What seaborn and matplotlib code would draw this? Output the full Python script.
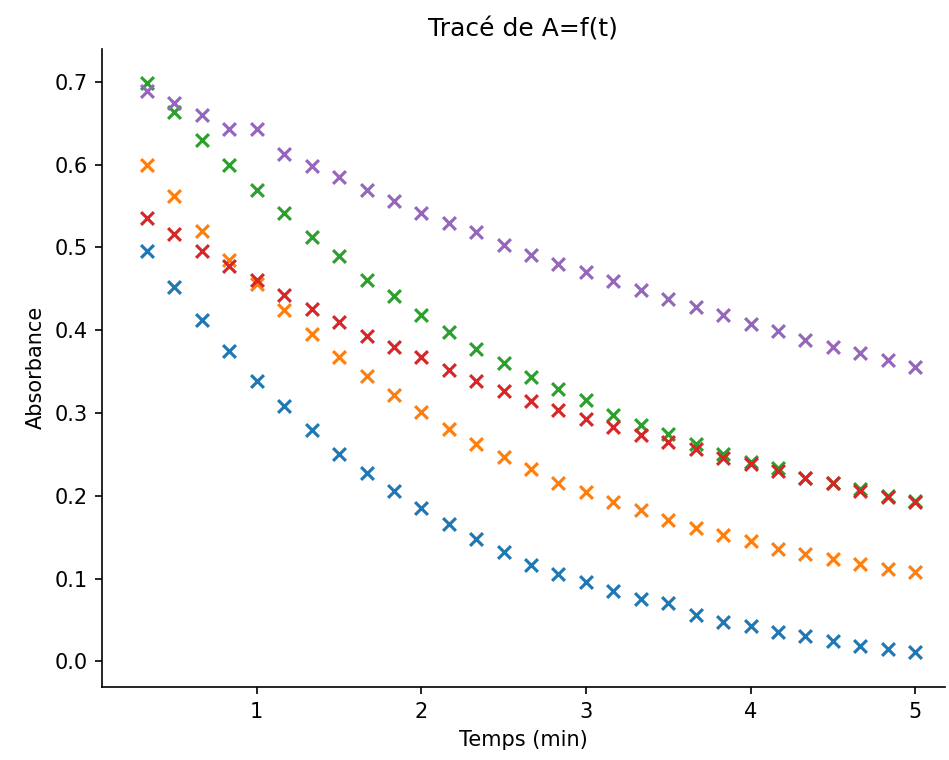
import numpy as np
import pandas as pd
from matplotlib import pyplot as plt
import seaborn as sns

# time points (min), one every 10 s
temps = [0.333, 0.5, 0.667, 0.833, 1.0, 1.167, 1.333, 1.5, 1.667, 1.833,
         2.0, 2.167, 2.333, 2.5, 2.667, 2.833, 3.0, 3.167, 3.333, 3.5,
         3.667, 3.833, 4.0, 4.167, 4.333, 4.5, 4.667, 4.833, 5.0]

# absorbance series
serie_1 = [0.496, 0.452, 0.412, 0.375, 0.339, 0.308, 0.279, 0.250, 0.227, 0.206,
           0.185, 0.166, 0.148, 0.132, 0.116, 0.106, 0.096, 0.085, 0.075, 0.070,
           0.056, 0.048, 0.043, 0.035, 0.031, 0.025, 0.019, 0.015, 0.011]
serie_2 = [0.600, 0.562, 0.520, 0.485, 0.456, 0.424, 0.395, 0.368, 0.345, 0.322,
           0.301, 0.281, 0.263, 0.247, 0.232, 0.216, 0.204, 0.193, 0.183, 0.171,
           0.161, 0.153, 0.145, 0.136, 0.130, 0.124, 0.118, 0.112, 0.108]
serie_3 = [0.698, 0.663, 0.630, 0.600, 0.569, 0.542, 0.512, 0.489, 0.460, 0.441,
           0.418, 0.398, 0.377, 0.360, 0.343, 0.329, 0.316, 0.298, 0.285, 0.275,
           0.262, 0.251, 0.241, 0.233, 0.222, 0.215, 0.208, 0.200, 0.194]
serie_4 = [0.535, 0.516, 0.496, 0.477, 0.460, 0.443, 0.426, 0.410, 0.393, 0.380,
           0.367, 0.352, 0.339, 0.326, 0.315, 0.304, 0.293, 0.283, 0.273, 0.265,
           0.256, 0.246, 0.238, 0.230, 0.222, 0.215, 0.206, 0.199, 0.193]
serie_5 = [0.689, 0.674, 0.660, 0.643, 0.643, 0.613, 0.598, 0.585, 0.569, 0.556,
           0.541, 0.529, 0.518, 0.503, 0.491, 0.480, 0.470, 0.459, 0.449, 0.438,
           0.428, 0.418, 0.408, 0.399, 0.388, 0.380, 0.372, 0.364, 0.356]

series = [serie_1, serie_2, serie_3, serie_4, serie_5]
colors = sns.color_palette('tab10', 5)

plt.rcParams['font.size'] = 15

fig = plt.figure(figsize=(9.49, 7.6), dpi=100)
ax = fig.add_axes([0.1075, 0.096, 0.888, 0.84])

#one scatter per experiment
for i, s in enumerate(series):
    df = pd.DataFrame({'t': temps, 'A': s})
    sns.scatterplot(data=df, x='t', y='A', marker='x', s=85, linewidth=2.25,
                    color=colors[i], ax=ax)

ax.set_xlim(0.06, 5.18)
ax.set_ylim(-0.031, 0.74)
ax.set_xticks([1, 2, 3, 4, 5])
ax.set_yticks([0.0, 0.1, 0.2, 0.3, 0.4, 0.5, 0.6, 0.7])
ax.tick_params(length=5.25, width=1.2, pad=5.25)
for sp in ax.spines.values():
    sp.set_linewidth(1.2)
sns.despine(ax=ax)

ax.set_title('Tracé de A=f(t)', fontsize=18, pad=9)
ax.set_xlabel('Temps (min)', labelpad=6)
ax.set_ylabel('Absorbance', labelpad=6)
fig.savefig('out.png', dpi=100)
